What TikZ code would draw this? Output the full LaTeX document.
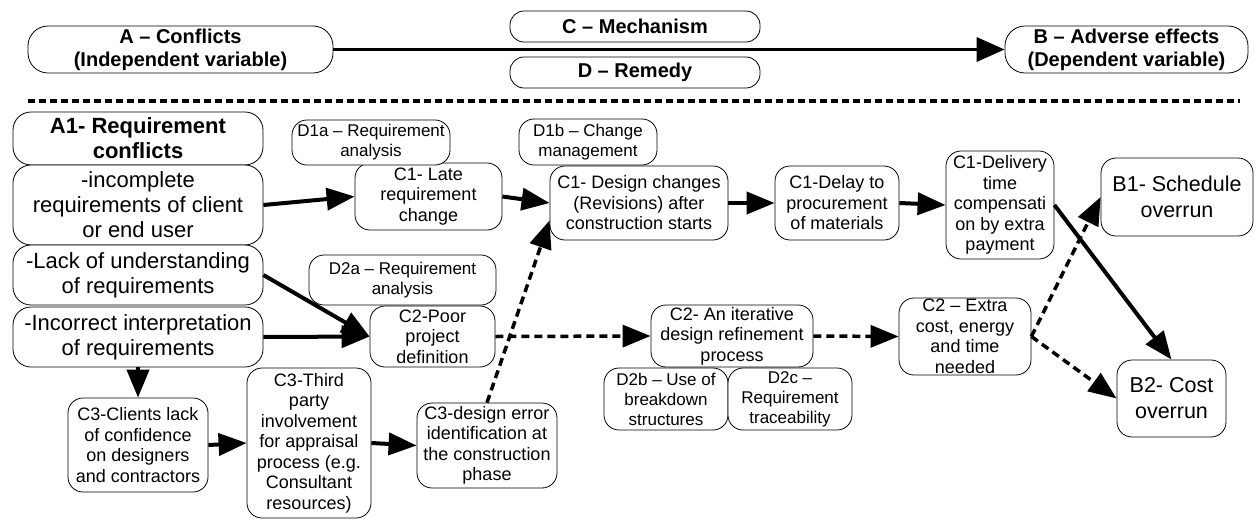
\documentclass[tikz,border=0pt]{standalone}
\usepackage{fontspec}
\setmainfont{Liberation Sans}
\usetikzlibrary{arrows.meta}
\tikzset{
 bx/.style={draw, fill=white, rounded corners=15pt, line width=0.8pt, align=center, inner sep=0pt, font=\fontsize{18}{20.5}\selectfont},
 hdr/.style={bx, rounded corners=20pt, font=\bfseries\fontsize{20}{23}\selectfont},
 ab/.style={bx, rounded corners=18pt, font=\fontsize{22}{25}\selectfont},
 abt/.style={ab, font=\bfseries\fontsize{22}{25}\selectfont},
 dbx/.style={bx, font=\fontsize{17}{20}\selectfont},
 bb/.style={bx, font=\fontsize{21.5}{26}\selectfont},
 solidarrow/.style={line width=4pt, -{Triangle[length=28pt,width=22pt]}},
 hdrarrow/.style={line width=3.5pt, -{Triangle[length=28pt,width=24pt]}},
 dotarrow/.style={line width=3.5pt, dash pattern=on 8pt off 5pt, -{Triangle[length=28pt,width=22pt]}},
 sep/.style={line width=4pt, dash pattern=on 7pt off 4pt},
}
\begin{document}
\begin{tikzpicture}[x=1pt,y=-1pt]
\useasboundingbox (0,0) rectangle (1256,520);
\fill[white] (0,0) rectangle (1256,520);
% header
\node[hdr, minimum width=305pt, minimum height=47pt] (A) at (180.5,49.5) {A -- Conflicts\\(Independent variable)};
\node[hdr, rounded corners=14pt, minimum width=250pt, minimum height=31pt] (C) at (635,26.5) {C -- Mechanism};
\node[hdr, rounded corners=14pt, minimum width=250pt, minimum height=31pt] (D) at (635,72.5) {D -- Remedy};
\node[hdr, minimum width=243pt, minimum height=47pt] (B) at (1126.5,49.5) {B -- Adverse effects\\(Dependent variable)};
\draw[hdrarrow] (A.east) -- (B.west);
\coordinate (sepL) at (28,101);
\coordinate (sepR) at (1240,101);
\draw[sep] (sepL) -- (sepR);
% A1 column
\node[abt, minimum width=250pt, minimum height=53pt] (A1) at (138,138.5) {A1- Requirement\\conflicts};
\node[ab, minimum width=250pt, minimum height=80pt] (inc) at (138,205) {-incomplete\\requirements of client\\or end user};
\node[ab, minimum width=250pt, minimum height=60pt] (lack) at (138,275) {-Lack of understanding\\of requirements};
\node[ab, minimum width=250pt, minimum height=60pt] (incor) at (138,337) {-Incorrect interpretation\\of requirements};
% C1 chain
\node[bx, minimum width=147pt, minimum height=67pt] (c1late) at (428.5,196.5) {C1- Late\\requirement\\change};
\node[dbx, minimum width=158pt, minimum height=45pt] (d1a) at (371,142.5) {D1a -- Requirement\\analysis};
\node[bx, minimum width=178pt, minimum height=74pt] (c1des) at (639,203) {C1- Design changes\\(Revisions) after\\construction starts};
\node[dbx, minimum width=138pt, minimum height=46pt] (d1b) at (588,142) {D1b -- Change\\management};
\node[bx, minimum width=124pt, minimum height=74pt] (c1delay) at (837,203) {C1-Delay to\\procurement\\of materials};
\node[bx, minimum width=108pt, minimum height=108pt] (c1deliv) at (1000,205) {C1-Delivery\\time\\compensati\\on by extra\\payment};
\node[bb, minimum width=152pt, minimum height=78pt] (B1) at (1177,197) {B1- Schedule\\overrun};
% C2 chain
\node[bx, minimum width=125pt, minimum height=61pt] (c2poor) at (432.5,336.5) {C2-Poor\\project\\definition};
\node[dbx, minimum width=187pt, minimum height=50pt] (d2a) at (402.5,280) {D2a -- Requirement\\analysis};
\node[bx, minimum width=162pt, minimum height=62pt] (c2iter) at (732,336) {C2- An iterative\\design refinement\\process};
\node[dbx, minimum width=124pt, minimum height=62pt] (d2b) at (666,399) {D2b -- Use of\\breakdown\\structures};
\node[dbx, minimum width=124pt, minimum height=62pt] (d2c) at (790,399) {D2c --\\Requirement\\traceability};
\node[bx, minimum width=132pt, minimum height=77pt] (c2extra) at (965,336.5) {C2 -- Extra\\cost, energy\\and time\\needed};
\node[bb, minimum width=109pt, minimum height=77pt] (B2) at (1171.5,398.5) {B2- Cost\\overrun};
% C3 chain
\node[bx, minimum width=140pt, minimum height=94pt] (c3cli) at (138,445) {C3-Clients lack\\of confidence\\on designers\\and contractors};
\node[bx, minimum width=124pt, minimum height=150pt] (c3third) at (309,443) {C3-Third\\party\\involvement\\for appraisal\\process (e.g.\\Consultant\\resources)};
\node[bx, minimum width=140pt, minimum height=85pt] (c3err) at (487,445.5) {C3-design error\\identification at\\the construction\\phase};
% connectors
\draw[solidarrow] (inc.east) -- (c1late.west);
\draw[solidarrow] (c1late.east) -- (c1des.west);
\draw[solidarrow] (c1des.east) -- (c1delay.west);
\draw[solidarrow] (c1delay.east) -- (c1deliv.west);
\draw[solidarrow] (c1deliv.east) -- (B2.north);
\draw[solidarrow] (lack.east) -- (c2poor.west);
\draw[solidarrow] (incor.east) -- (c2poor.west);
\draw[dotarrow] (c2poor.east) -- (c2iter.west);
\draw[dotarrow] (c2iter.east) -- (c2extra.west);
\draw[dotarrow] (c2extra.east) -- (B1.west);
\draw[dotarrow] (c2extra.east) -- (B2.west);
\draw[solidarrow] (incor.south) -- (c3cli.north);
\draw[solidarrow] (c3cli.east) -- (c3third.west);
\draw[solidarrow] (c3third.east) -- (c3err.west);
\draw[dotarrow] (c3err.north) -- (c1des.191);
\end{tikzpicture}
\end{document}
